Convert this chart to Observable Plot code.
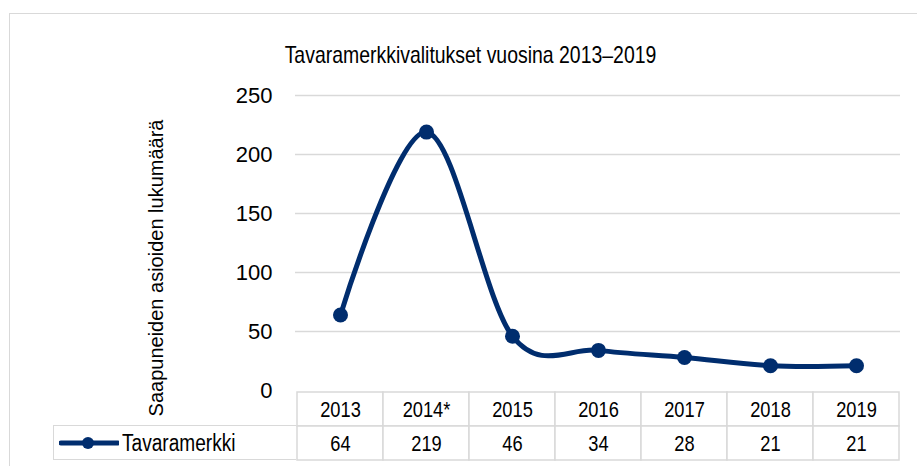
<!DOCTYPE html>
<html>
<head>
<meta charset="utf-8">
<script src="https://cdn.jsdelivr.net/npm/d3@7"></script>
<script src="https://cdn.jsdelivr.net/npm/@observablehq/plot@0.6"></script>
<style>
  html, body { margin: 0; padding: 0; background: #fff; overflow: hidden; }
  #wrap { position: relative; width: 917px; height: 466px; overflow: hidden; }
  .narrow { font-family: "Liberation Sans", Arial, sans-serif; }
  #frame { position: absolute; left: 9px; top: 13px; width: 940px; height: 480px; border: 1.5px solid #d9d9d9; box-sizing: border-box; }
  #title { position: absolute; left: 220px; width: 501px; top: 43px; text-align: center; font-size: 24px; line-height: 24px;
           color: #000; white-space: nowrap; transform: scaleX(0.81); transform-origin: center; }
  #main { position: absolute; left: 0; top: 0; }
  #table { position: absolute; left: 294px; top: 390px; }
  #legend { position: absolute; left: 53px; top: 425px; width: 243px; height: 35px; box-sizing: border-box;
            border: 1.5px solid #d9d9d9; border-right: none; background: #fff; }
  #legend svg { position: absolute; left: 5px; top: 9px; }
  #legend span { position: absolute; left: 68px; top: 5px; font-size: 23px; line-height: 24px; color: #000; white-space: nowrap;
                 transform: scaleX(0.83); transform-origin: left center; }
</style>
</head>
<body>
<div id="wrap">
  <div id="frame"></div>
  <div id="main"></div>
  <div id="title" class="narrow"></div>
  <div id="table"></div>
  <div id="legend"></div>
</div>
<script>
// ---- data ----
const chartTitle = "Tavaramerkkivalitukset vuosina 2013–2019";
const yAxisLabel = "Saapuneiden asioiden lukumäärä";
const seriesName = "Tavaramerkki";
const years = ["2013", "2014*", "2015", "2016", "2017", "2018", "2019"];
const values = [64, 219, 46, 34, 28, 21, 21];
const yTicks = [0, 50, 100, 150, 200, 250];

const navy = "#002d6e";
const grid = "#d9d9d9";
const font = '"Liberation Sans", Arial, sans-serif';

const data = years.map((y, i) => ({year: y, value: values[i]}));

document.getElementById("title").textContent = chartTitle;

const main = Plot.plot({
  width: 917,
  height: 466,
  marginLeft: 295,
  marginRight: 17,
  marginTop: 95,
  marginBottom: 76,
  style: {background: "transparent", overflow: "visible", color: "#000"},
  x: {type: "point", domain: years, padding: 0.5, axis: null},
  y: {domain: [0, 250], axis: null},
  marks: [
    Plot.gridY(yTicks.filter(t => t > 0), {stroke: grid, strokeOpacity: 1, strokeWidth: 1.5}),
    Plot.axisY(yTicks, {tickSize: 0, tickPadding: 23, fontSize: 22, fontFamily: font, label: null, fill: "#000"}),
    Plot.text([yAxisLabel], {frameAnchor: "left", text: d => d, rotate: -90, textAnchor: "middle", lineAnchor: "middle",
      dx: -138.5, dy: 25, fontSize: 20, fontFamily: font, fill: "#000"}),
    Plot.line(data, {x: "year", y: "value", curve: "cardinal", stroke: navy, strokeWidth: 5,
      strokeLinejoin: "round", strokeLinecap: "round"}),
    Plot.dot(data, {x: "year", y: "value", r: 7.5, fill: navy, stroke: "none"})
  ]
});
document.getElementById("main").appendChild(main);

// data table below the chart
const rows = ["head", "value"];
const cells = years.flatMap((y, i) => [
  {year: y, row: "head", label: y},
  {year: y, row: "value", label: String(values[i])}
]);
const table = Plot.plot({
  width: 608,
  height: 72,
  marginLeft: 1,
  marginRight: 2,
  marginTop: 1,
  marginBottom: 2,
  style: {background: "transparent", overflow: "visible"},
  x: {type: "band", domain: years, padding: 0, axis: null},
  y: {type: "band", domain: rows, padding: 0, axis: null},
  marks: [
    Plot.cell(cells, {x: "year", y: "row", fill: "#fff", stroke: grid, strokeWidth: 1.5, inset: 0}),
    Plot.text(cells, {x: "year", y: "row", text: "label", fontSize: 22, fontFamily: font, fill: "#000"})
  ]
});
// condense the table texts horizontally (narrow face look), keeping Plot's own placement
d3.select(table).selectAll("text").each(function() {
  const t = this.getAttribute("transform");
  if (t) this.setAttribute("transform", t + " scale(0.83,1)");
  else {
    const x = +this.getAttribute("x") || 0, y = +this.getAttribute("y") || 0;
    this.removeAttribute("x"); this.removeAttribute("y");
    this.setAttribute("transform", `translate(${x},${y}) scale(0.83,1)`);
  }
});
document.getElementById("table").appendChild(table);

// legend cell
const legend = document.getElementById("legend");
legend.innerHTML = `<svg width="60" height="16" viewBox="0 0 60 16">
  <line x1="2" y1="8" x2="59" y2="8" stroke="${navy}" stroke-width="5" stroke-linecap="round"/>
  <circle cx="29" cy="8" r="6" fill="${navy}"/></svg><span class="narrow"></span>`;
legend.querySelector("span").textContent = seriesName;
</script>
</body>
</html>
